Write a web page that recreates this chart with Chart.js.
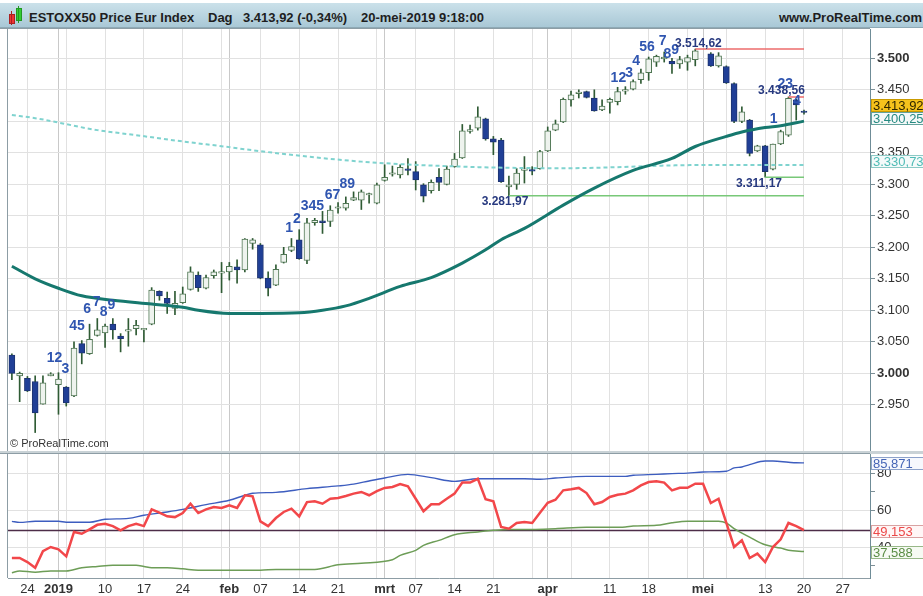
<!DOCTYPE html>
<html>
<head>
<meta charset="utf-8">
<script src="https://cdn.jsdelivr.net/npm/chart.js@4.4.1/dist/chart.umd.min.js"></script>
<style>
  body { margin: 0; width: 923px; height: 596px; overflow: hidden; background: #fff; position: relative;
         font-family: "Liberation Sans", Arial, sans-serif; }
  #head { position: absolute; left: 0; top: 3px; width: 923px; height: 24px;
          background: linear-gradient(#cbe1ea, #a9c8d6); border-bottom: 1px solid #8ea9b5; }
  #head span { position: absolute; top: 7px; font-size: 13px; font-weight: bold; color: #1e1e1e; line-height: 15px; white-space: nowrap; }
  .ic { position: absolute; }
  #sep { position: absolute; left: 0; top: 451px; width: 923px; height: 3px; background: #c9d2d6; }
  .wrap { position: absolute; left: 0; width: 923px; }
</style>
</head>
<body>
<div id="head">
  <div class="ic" style="left:9px;top:11px;width:4px;height:8px;background:#e33;border:1px solid #a22"></div>
  <div class="ic" style="left:11px;top:8px;width:1px;height:14px;background:#a22"></div>
  <div class="ic" style="left:16px;top:5px;width:4px;height:11px;background:#3c3;border:1px solid #292"></div>
  <div class="ic" style="left:18px;top:3px;width:1px;height:17px;background:#292"></div>
  <span style="left:29px">ESTOXX50 Price Eur Index</span>
  <span style="left:208px">Dag</span>
  <span style="left:243px">3.413,92 (-0,34%)</span>
  <span style="left:361px">20-mei-2019 9:18:00</span>
  <span style="right:1px">www.ProRealTime.com</span>
</div>
<div class="wrap" style="top:28px;height:424px"><canvas id="price"></canvas></div>
<div id="sep"></div>
<div class="wrap" style="top:452px;height:144px"><canvas id="ind"></canvas></div>
<script>
// handelsdagen (dd-mm), laatste 8 = toekomst
const dates = ['20-12','21-12','24-12','27-12','28-12','31-12',
  '02-01','03-01','04-01','07-01','08-01','09-01','10-01','11-01','14-01','15-01','16-01','17-01','18-01','21-01','22-01','23-01','24-01','25-01','28-01','29-01','30-01','31-01',
  '01-02','04-02','05-02','06-02','07-02','08-02','11-02','12-02','13-02','14-02','15-02','18-02','19-02','20-02','21-02','22-02','25-02','26-02','27-02','28-02',
  '01-03','04-03','05-03','06-03','07-03','08-03','11-03','12-03','13-03','14-03','15-03','18-03','19-03','20-03','21-03','22-03','25-03','26-03','27-03','28-03','29-03',
  '01-04','02-04','03-04','04-04','05-04','08-04','09-04','10-04','11-04','12-04','15-04','16-04','17-04','18-04','23-04','24-04','25-04','26-04','29-04','30-04',
  '01-05','02-05','03-05','06-05','07-05','08-05','09-05','10-05','13-05','14-05','15-05','16-05','17-05','20-05',
  '21-05','22-05','23-05','24-05','27-05','28-05','29-05','30-05'];

const open = [3029,2996,2992,2987,2951,2996,2982,2978,2964,3047,
  3031,3060,3064,3078,3059,3067,3071,3069,3078,3130,
  3119,3103,3112,3133,3156,3135,3155,3159,3161,3169,
  3164,3206,3204,3151,3140,3176,3195,3212,3179,3239,
  3242,3241,3262,3262,3275,3275,3283,3270,3306,3316,
  3315,3323,3320,3299,3290,3311,3300,3328,3342,3384,
  3389,3404,3372,3370,3296,3300,3322,3322,3325,3353,
  3386,3399,3434,3444,3447,3437,3418,3430,3431,3448,
  3451,3466,3477,3494,3499,3495,3491,3494,3498,null,
  3507,3488,3487,3460,3400,3402,3353,3361,3324,3364,
  3378,3434,3416];
const high = [3031,3002,2995,2996,2996,3001,3001,2979,3050,3052,
  3078,3087,3078,3087,3063,3087,3084,3071,3136,3131,
  3129,3130,3137,3169,3161,3156,3164,3176,3176,3180,
  3214,3214,3206,3161,3172,3200,3214,3228,3246,3246,
  3257,3266,3271,3280,3288,3291,3286,3302,3331,3329,
  3331,3341,3336,3301,3307,3325,3329,3349,3395,3394,
  3423,3405,3376,3373,3313,3325,3344,3328,3354,3391,
  3402,3437,3448,3450,3448,3450,3434,3437,3454,3455,
  3466,3483,3502,3505,3510,3500,3503,3505,3514.62,null,
  3509,3509,3488,3461,3423,3403,3362,3362,3364,3386,
  3438.56,3435,3418];
const low = [2990,2955,2971,2906,2951,2996,2935,2948,2963,3015,
  3030,3059,3041,3054,3034,3043,3061,3050,3077,3116,
  3095,3093,3111,3132,3130,3134,3151,3128,3148,3143,
  3161,3197,3150,3123,3139,3175,3193,3181,3174,3235,
  3222,3233,3254,3259,3274,3260,3270,3269,3305,3313,
  3310,3315,3291,3272,3286,3290,3299,3327,3341,3381,
  3386,3370,3347,3303,3281.97,3292,3302,3315,3324,3352,
  3385,3398,3424,3437,3437,3416,3417,3413,3426,3443,
  3450,3460,3465,3487,3494,3476,3484,3481,3488,null,
  3487,3486,3460,3398,3398,3345,3352,3311.17,3323,3363,
  3376,3402,3411.5];
const close = [3000,3000,2972,2937,2985,2999,2991,2953,3040,3032,
  3054,3069,3075,3069,3055,3068,3076,3069.5,3132,3123,
  3111,3111,3126,3161,3136,3152,3161,3160.5,3170,3164,
  3213,3212,3151,3135,3165,3189,3201,3182,3239,3243,
  3239,3259,3262.5,3270,3279,3288,3284,3299,3311,3317,
  3327,3322,3307,3281,3303,3303,3324,3340,3385,3387,
  3407,3372,3367,3304,3299,3318,3323,3321,3352,3385,
  3396,3435,3442,3446.5,3438,3416.5,3424,3435,3447,3449,
  3463,3477,3499,3503,3502,3491,3498,3501,3512,null,
  3488,3504,3461,3400,3415,3349,3361,3320,3364,3383.5,
  3436.5,3426,3413.92];

// gemiddelden [dag-index, waarde]
const maFast = [[0,3170],[3,3150],[6,3135],[9,3123],[13,3116],[18,3110],[22,3105],[24,3100],[28,3095],[32,3095],
  [37,3096],[40,3100],[43,3107],[46,3119],[50,3138],[54,3152],[58,3175],[61,3196],[63,3212],[66,3230],
  [71,3267],[75,3294],[80,3322],[85,3341],[88,3360],[92,3376],[94,3383],[97,3390],[99,3393],[102,3400.25]];
const maSlow = [[0,3410],[3,3405],[11,3386],[16,3378],[22,3368],[28,3359],[31,3354],[45,3336],[58,3328],
  [71,3325.5],[88,3330.5],[102,3330.73]];

// steun/weerstand
const levels = [3514.62, 3438.56, 3311.17, 3281.97];
const levelFrom = [88, 100, 97, 64];
const levelTo = [102, 102, 102, 102];
const levelColor = ['#ec6b6b', '#ec6b6b', '#78c878', '#78c878'];
const levelText = ['3.514,62', '3.438,56', '3.311,17', '3.281,97'];
const levelTextIdx = [88.4, 99.1, 96.2, 63.5];
const levelTextVal = [3522.7, 3448, 3300.5, 3271.8];

// TD-tellingen
const tdText = ['12','3','45','6','7','8','9','1','2','345','67','89','12','3','4','56','7','8','9','1','23','4'];
const tdIdx = [5.5,6.9,8.4,9.7,10.9,11.8,12.8,35.7,36.7,38.7,41.3,43.2,78.1,79.5,80.4,81.8,83.8,84.4,85.4,98.1,99.6,101.1];
const tdVal = [3024,3007,3075,3102,3113,3097,3108,3231,3244,3266,3283,3300,3469,3477,3496,3518,3527,3507,3513,3403,3459,3432];

// indicator (onderste paneel)
const rsi = [34.0,34.0,31.8,28.7,37.7,40.0,38.7,34.9,48.2,47.2,
  49.6,52.1,52.7,51.4,49.1,51.4,52.7,51.4,60.5,58.7,
  56.7,56.3,58.5,63.6,58.5,60.5,61.8,61.3,62.7,61.3,
  68.2,67.6,54.0,51.4,55.8,59.1,60.9,56.7,64.5,64.9,
  63.6,66.3,66.7,67.8,69.1,70.0,68.2,70.5,72.2,72.7,
  74.3,73.1,66.3,59.5,63.3,63.3,66.3,69.1,75.1,75.1,
  77.2,66.0,64.9,50.9,50.0,53.1,53.6,53.1,58.7,64.1,
  65.8,70.9,71.5,72.2,69.4,63.3,64.5,67.3,68.5,69.1,
  70.9,73.6,75.4,75.8,75.1,70.9,72.3,72.3,74.5,74.5,
  64.0,66.3,53.2,40.0,43.6,34.0,36.4,31.8,40.0,44.2,
  53.1,51.4,49.153];
const bluePts = [[0,54.0],[1,53.4],[3,54.0],[6,54.0],[7,53.5],[10,53.5],[12,55.1],[15,55.6],[17,57.3],[20,59.1],
  [22,60.5],[25,63.1],[28,65.5],[30,68.2],[31,69.3],[34,69.8],[38,71.8],[42,73.3],[44,74.3],[46,76.0],
  [48,77.6],[51,79.6],[54,77.8],[57,75.8],[60,77.2],[63,77.2],[66,77.2],[68,76.9],[70,77.6],[74,78.5],
  [79,78.5],[80,79.1],[83,79.6],[85,80.0],[87,80.3],[89,80.9],[92,81.3],[93,83.1],[94,83.6],[95,84.9],
  [97,86.9],[98,86.9],[100,86.2],[101,85.9],[102,85.871]];
const greenPts = [[0,26.0],[1,26.9],[3,26.3],[5,26.9],[7,26.9],[9,28.7],[11,29.4],[13,30.0],[16,30.0],[17,29.4],
  [18,28.7],[20,28.7],[22,28.1],[24,27.3],[28,27.3],[32,27.3],[34,27.8],[39,27.8],[42,30.3],[45,31.2],
  [49,33.0],[50,35.4],[52,38.2],[53,40.9],[55,43.6],[57,46.7],[60,48.2],[62,49.1],[64,49.6],[67,49.6],
  [70,50.0],[74,50.7],[77,50.7],[79,50.9],[80,51.4],[83,51.8],[85,53.2],[87,54.0],[89,54.0],[91,54.0],
  [92,53.1],[93,50.0],[95,45.4],[97,41.2],[99,39.4],[100,38.2],[102,37.588]];

// as-labels
const priceTicks = [2950,3000,3050,3100,3150,3200,3250,3300,3350,3400,3450,3500];
const lowTicks = [30,40,50,60,70,80];
const tickIdx = [2,6,12,17,22,28,32,37,42,48,52,57,62,69,77,82,89,97,102,107];
const tickText = ['24','2019','10','17','24','feb','07','14','21','mrt','07','14','21','apr','11','18','mei','13','20','27'];
const weekIdx = [2,7,12,17,22,27,32,37,42,47,52,57,62,67,72,77,82,87,92,97,102,107];
const monthIdx = [6,28,48,69,89];

// prijslabels rechts
const tagVals = [3413.92, 3400.25, 3330.73];
const tagText = ['3.413,92', '3.400,25', '3.330,73'];
const tagStyle = [['#f5c21c','#c99a00','#2e2600'], ['#f4f8f8','#62a29c','#258a82'], ['#f4fafa','#8ccac6','#4fbcb6']];
const lowTagVals = [85.871, 49.153, 37.588];
const lowTagText = ['85,871', '49,153', '37,588'];
const lowTagStyle = [['#f6f8fd','#8da2ca','#4565b6'], ['#fff6f6','#d9a2a2','#ec4848'], ['#f6faf3','#98b888','#5a8d44']];

const FONT = '"Liberation Sans", Arial, sans-serif';
Chart.defaults.font.family = FONT;
Chart.defaults.animation = false;

const pts = arr => arr.map(([i, v]) => ({ x: dates[i], y: v }));
const fmt = v => String(v).replace(/\B(?=(\d{3})+(?!\d))/g, '.');
const gridCol = i => monthIdx.includes(i) ? '#c9c9c9' : (weekIdx.includes(i) ? '#e1e1e1' : 'transparent');
const noPad = s => { s.paddingTop = 0; s.paddingBottom = 0; s.paddingLeft = 0; s.paddingRight = 0; };

function drawTags(chart, vals, texts, styles, shift) {
  const { ctx, scales: { y }, chartArea: a } = chart;
  const h = 13;
  const cs = vals.map(v => y.getPixelForValue(v) + shift);
  for (let i = cs.length - 2; i >= 0; i--) if (cs[i + 1] - cs[i] < h) cs[i] = cs[i + 1] - h;
  ctx.save();
  ctx.font = '13px ' + FONT;
  ctx.textAlign = 'left';
  ctx.textBaseline = 'middle';
  cs.forEach((c, k) => {
    const [bg, bd, fg] = styles[k];
    const t = Math.round(c - h / 2);
    ctx.fillStyle = bg;
    ctx.fillRect(a.right + 1, t, 60, h);
    ctx.strokeStyle = bd;
    ctx.lineWidth = 1;
    ctx.strokeRect(a.right + 1.5, t + 0.5, 60, h - 1);
    ctx.fillStyle = fg;
    ctx.fillText(texts[k], a.right + 3, t + h / 2 + 0.5);
  });
  ctx.restore();
}

function frame(chart, top, bottom) {
  const { ctx, chartArea: a } = chart;
  ctx.save();
  ctx.strokeStyle = '#8d9da5';
  ctx.lineWidth = 1;
  ctx.beginPath();
  ctx.moveTo(a.left - 0.5, a.top);
  ctx.lineTo(a.left - 0.5, a.bottom);
  if (top) { ctx.moveTo(0, a.top - 0.5); ctx.lineTo(a.right, a.top - 0.5); }
  if (bottom) { ctx.moveTo(0, a.bottom + 0.5); ctx.lineTo(a.right, a.bottom + 0.5); }
  ctx.stroke();
  ctx.restore();
}

const priceMarks = {
  id: 'priceMarks',
  afterDatasetsDraw(chart) {
    const { ctx, scales: { x, y }, chartArea: a } = chart;
    ctx.save();
    ctx.textAlign = 'center';
    ctx.textBaseline = 'middle';
    ctx.font = 'bold 14px ' + FONT;
    ctx.fillStyle = '#2f55b0';
    tdText.forEach((t, k) => ctx.fillText(t, x.getPixelForValue(tdIdx[k]), y.getPixelForValue(tdVal[k])));
    ctx.font = 'bold 12px ' + FONT;
    ctx.fillStyle = '#27397f';
    levelText.forEach((t, k) => ctx.fillText(t, x.getPixelForValue(levelTextIdx[k]), y.getPixelForValue(levelTextVal[k])));
    ctx.textAlign = 'left';
    ctx.font = '11px ' + FONT;
    ctx.fillStyle = '#333';
    ctx.fillText('© ProRealTime.com', a.left + 2, a.bottom - 7);
    ctx.restore();
  },
  afterDraw(chart) {
    frame(chart, true, true);
    drawTags(chart, tagVals, tagText, tagStyle, -3);
  }
};

const indMarks = {
  id: 'indMarks',
  beforeDatasetsDraw(chart) {
    const { ctx, scales: { y }, chartArea: a } = chart;
    const py = Math.round(y.getPixelForValue(rsi[rsi.length - 1])) + 0.5;
    ctx.save();
    ctx.strokeStyle = '#4d2d48';
    ctx.lineWidth = 1.5;
    ctx.beginPath();
    ctx.moveTo(a.left, py);
    ctx.lineTo(a.right, py);
    ctx.stroke();
    ctx.restore();
  },
  afterDraw(chart) {
    frame(chart, true, false);
    drawTags(chart, lowTagVals, lowTagText, lowTagStyle, 1);
  }
};

const bull = i => close[i] >= open[i];

const levelSets = levels.map((v, k) => ({
  type: 'line',
  data: [{ x: dates[levelFrom[k]], y: v }, { x: dates[levelTo[k]], y: v }],
  borderColor: levelColor[k], borderWidth: 1.5, pointRadius: 0, order: 0
}));

new Chart(document.getElementById('price'), {
  type: 'bar',
  data: {
    labels: dates,
    datasets: [
      {
        type: 'line', data: pts(maFast), borderColor: '#16786e', borderWidth: 3,
        pointRadius: 0, cubicInterpolationMode: 'monotone', order: 0
      },
      {
        type: 'line', data: pts(maSlow), borderColor: '#7fd3cf', borderWidth: 2, borderDash: [4, 3],
        pointRadius: 0, cubicInterpolationMode: 'monotone', order: 0
      },
      ...levelSets,
      {
        data: low.map((l, i) => l == null ? null : [l, high[i]]),
        backgroundColor: '#2f5b34', barThickness: 1, grouped: false, order: 3
      },
      {
        data: open.map((o, i) => o == null ? null : [Math.min(o, close[i]), Math.max(o, close[i])]),
        backgroundColor: open.map((o, i) => bull(i) ? '#eef3ee' : '#203f96'),
        borderColor: open.map((o, i) => bull(i) ? '#4f7653' : '#1e3470'),
        borderWidth: 1, borderSkipped: false, minBarLength: 1.5,
        barThickness: 6, grouped: false, order: 2
      }
    ]
  },
  options: {
    responsive: true, maintainAspectRatio: false, devicePixelRatio: 1,
    layout: { padding: { left: 8, top: 1, right: 0, bottom: 1 } },
    plugins: { legend: { display: false }, tooltip: { enabled: false } },
    scales: {
      x: {
        offset: true,
        grid: { offset: false, drawTicks: false, color: ctx => gridCol(ctx.index) },
        ticks: { display: false, autoSkip: false },
        border: { display: false },
        afterFit: s => { s.height = 0; noPad(s); }
      },
      y: {
        position: 'right', min: 2876.7, max: 3546.5,
        afterBuildTicks: s => { s.ticks = priceTicks.map(v => ({ value: v })); },
        afterFit: s => { s.width = 53; noPad(s); },
        grid: { color: '#e1e1e1', tickColor: '#7d8f96', tickLength: 5 },
        border: { color: '#6f8c97' },
        ticks: {
          padding: 2, color: '#333',
          font: ctx => ({ size: 13, weight: ctx.tick && ctx.tick.value % 500 === 0 ? 'bold' : 'normal' }),
          callback: v => fmt(v)
        }
      }
    }
  },
  plugins: [priceMarks]
});

new Chart(document.getElementById('ind'), {
  type: 'line',
  data: {
    labels: dates,
    datasets: [
      { data: rsi, borderColor: '#f2474a', borderWidth: 2.5, pointRadius: 0, order: 0 },
      { data: pts(bluePts), borderColor: '#3d5dbf', borderWidth: 1.4, pointRadius: 0, cubicInterpolationMode: 'monotone', order: 1 },
      { data: pts(greenPts), borderColor: '#6d9d57', borderWidth: 1.5, pointRadius: 0, cubicInterpolationMode: 'monotone', order: 1 }
    ]
  },
  options: {
    responsive: true, maintainAspectRatio: false, devicePixelRatio: 1,
    layout: { padding: { left: 8, top: 2, right: 0, bottom: 0 } },
    plugins: { legend: { display: false }, tooltip: { enabled: false } },
    scales: {
      x: {
        offset: true,
        grid: { offset: false, drawTicks: false, color: ctx => gridCol(ctx.index) },
        border: { color: '#8d9da5' },
        ticks: {
          autoSkip: false, maxRotation: 0, padding: 4, color: '#333',
          font: ctx => ({ size: 13, weight: monthIdx.includes(ctx.index) ? 'bold' : 'normal' }),
          callback: (v, i) => { const k = tickIdx.indexOf(i); return k < 0 ? '' : tickText[k]; }
        },
        afterFit: s => { s.height = 18; noPad(s); }
      },
      y: {
        position: 'right', min: 23.1, max: 90.7,
        afterBuildTicks: s => { s.ticks = lowTicks.map(v => ({ value: v })); },
        afterFit: s => { s.width = 53; noPad(s); },
        grid: { color: ctx => (ctx.tick && ctx.tick.value % 20 === 0) ? '#e1e1e1' : 'transparent', tickColor: '#7d8f96', tickLength: 5 },
        border: { color: '#6f8c97' },
        ticks: { padding: 2, color: '#333', font: { size: 13 }, callback: v => v % 20 === 0 ? v : '' }
      }
    }
  },
  plugins: [indMarks]
});
</script>
</body>
</html>
